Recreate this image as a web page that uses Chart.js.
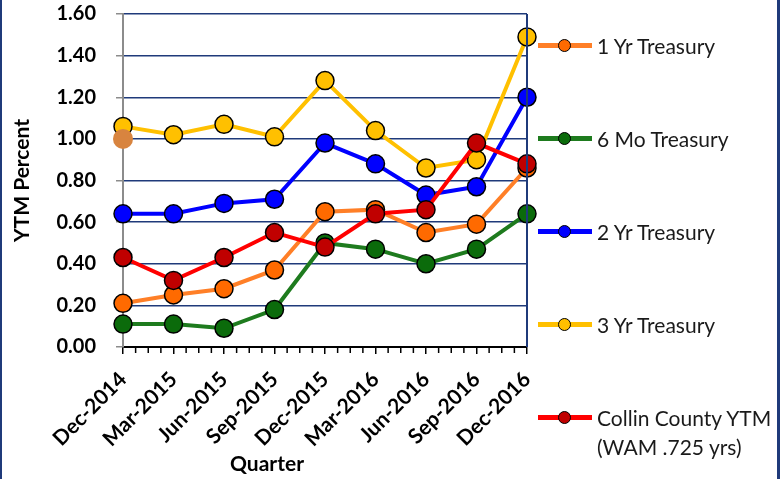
<!DOCTYPE html>
<html>
<head>
<meta charset="utf-8">
<script src="https://cdn.jsdelivr.net/npm/chart.js@4.4.1/dist/chart.umd.min.js"></script>
<style>
    body { margin: 0; background: #fff; }
    #wrap { position: relative; width: 784px; height: 479px; }
    #legend { position: absolute; left: 0; top: 0; font-family: Lato, sans-serif; font-size: 21px; color: #1a1a1a; }
    .item { position: absolute; left: 538px; height: 29px; }
    .item .ln { position: absolute; left: 0; top: 12px; width: 54px; height: 5px; }
    .item .dot { position: absolute; left: 20px; top: 8px; width: 13px; height: 13px; border: 1.5px solid #000; border-radius: 50%; box-sizing: border-box; }
    .item .txt { position: absolute; left: 59px; top: 0; line-height: 29px; white-space: pre; }
</style>
</head>
<body>
<div id="wrap">
    <canvas id="myChart" width="784" height="479"></canvas>
    <div id="legend"></div>
</div>
<script>
var quarters = ['Dec-2014', 'Mar-2015', 'Jun-2015', 'Sep-2015', 'Dec-2015', 'Mar-2016', 'Jun-2016', 'Sep-2016', 'Dec-2016'];
var oneYr = [0.21, 0.25, 0.28, 0.37, 0.65, 0.66, 0.55, 0.59, 0.86];
var sixMo = [0.11, 0.11, 0.09, 0.18, 0.50, 0.47, 0.40, 0.47, 0.64];
var twoYr = [0.64, 0.64, 0.69, 0.71, 0.98, 0.88, 0.73, 0.77, 1.20];
var threeYr = [1.06, 1.02, 1.07, 1.01, 1.28, 1.04, 0.86, 0.90, 1.49];
var collin = [0.43, 0.32, 0.43, 0.55, 0.48, 0.64, 0.66, 0.98, 0.88];
var stray = [1.00, null, null, null, null, null, null, null, null];
var yTicks = [0, 0.2, 0.4, 0.6, 0.8, 1.0, 1.2, 1.4, 1.6];

var navy = '#1F3A7A';
var font = 'Lato';

function series(label, values, line, fill, order) {
    return {
        label: label,
        data: values,
        borderColor: line,
        backgroundColor: fill,
        pointBackgroundColor: fill,
        pointBorderColor: '#000',
        pointBorderWidth: 1.5,
        pointRadius: 9,
        borderWidth: 4,
        tension: 0,
        order: order
    };
}

var frame = {
    id: 'frame',
    afterDraw: function(chart) {
        var c = chart.ctx, a = chart.chartArea, x = chart.scales.x;
        c.save();
        // outer frame
        c.fillStyle = navy;
        c.fillRect(0, 0, 2, 479);
        c.fillRect(777, 0, 3, 479);
        // right border of plot
        c.strokeStyle = navy;
        c.lineWidth = 2;
        c.beginPath();
        c.moveTo(a.right, a.top);
        c.lineTo(a.right, a.bottom);
        c.stroke();
        // minor ticks
        c.strokeStyle = '#000';
        c.lineWidth = 1.5;
        for (var i = 0; i < quarters.length - 1; i++) {
            var p0 = x.getPixelForValue(i), p1 = x.getPixelForValue(i + 1);
            for (var k = 1; k < 4; k++) {
                var px = p0 + (p1 - p0) * k / 4;
                c.beginPath();
                c.moveTo(px, a.bottom);
                c.lineTo(px, a.bottom + 6);
                c.stroke();
            }
        }
        // x title
        c.fillStyle = '#000';
        c.font = 'bold 21px ' + font;
        c.textAlign = 'center';
        c.textBaseline = 'middle';
        c.fillText('Quarter', 267, 464);
        c.restore();
    }
};

var ctx = document.getElementById('myChart').getContext('2d');
var myChart = new Chart(ctx, {
    type: 'line',
    data: {
        labels: quarters,
        datasets: [
            series('1 Yr Treasury', oneYr, '#FF7F27', '#FF6A00', 4),
            series('6 Mo Treasury', sixMo, '#1E7B1E', '#0B6B0B', 5),
            series('2 Yr Treasury', twoYr, '#0000FF', '#0000FF', 3),
            series('3 Yr Treasury', threeYr, '#FFC000', '#FFC000', 2),
            series('Collin County YTM\n(WAM .725 yrs)', collin, '#FF0000', '#C00000', 1),
            {
                label: 'extra', data: stray, showLine: false, borderWidth: 0,
                pointRadius: 10, pointBorderWidth: 0,
                pointBackgroundColor: '#D8843F', backgroundColor: '#D8843F', order: 0
            }
        ]
    },
    options: {
        responsive: false,
        animation: false,
        devicePixelRatio: 1,
        layout: { padding: { left: 0, top: 14, right: 257, bottom: 0 } },
        plugins: {
            legend: { display: false },
            tooltip: { enabled: false }
        },
        scales: {
            x: {
                offset: false,
                afterFit: function(s) { s.height = 132; s.paddingLeft = 0; s.paddingRight = 0; },
                grid: { drawOnChartArea: false, drawTicks: true, tickLength: 7, color: '#000', lineWidth: 1.5 },
                border: { color: '#000', width: 2 },
                ticks: {
                    maxRotation: 45, minRotation: 45, padding: 13,
                    color: '#000', font: { family: font, size: 21, weight: 'bold' }
                }
            },
            y: {
                min: 0, max: 1.6,
                afterFit: function(s) { s.width = 123; s.paddingTop = 0; s.paddingBottom = 0; },
                afterBuildTicks: function(s) { s.ticks = yTicks.map(function(v) { return { value: v }; }); },
                grid: {
                    color: function(c) { return c.tick && c.tick.value === 0 ? 'rgba(0,0,0,0)' : navy; },
                    tickColor: '#8c8c8c', tickLength: 7, lineWidth: 1.5
                },
                border: { color: '#8c8c8c', width: 2 },
                title: {
                    display: true, text: 'YTM Percent', color: '#000',
                    font: { family: font, size: 21, weight: 'bold' },
                    padding: { top: 10, bottom: 0 }
                },
                ticks: {
                    padding: 20, color: '#000',
                    font: { family: font, size: 20, weight: 'bold' },
                    callback: function(v) { return Number(v).toFixed(2); }
                }
            }
        }
    },
    plugins: [frame]
});

// legend built from the datasets, in the reference order
var legendOrder = [0, 1, 2, 3, 4];
var legendY = [45, 138, 231, 324, 417];
var lg = document.getElementById('legend');
legendOrder.forEach(function(idx, n) {
    var ds = myChart.data.datasets[idx];
    var item = document.createElement('div');
    item.className = 'item';
    item.style.top = (legendY[n] - 14.5) + 'px';
    item.innerHTML = '<div class="ln" style="background:' + ds.borderColor + '"></div>' +
        '<div class="dot" style="background:' + ds.pointBackgroundColor + '"></div>' +
        '<div class="txt"></div>';
    item.querySelector('.txt').textContent = ds.label;
    lg.appendChild(item);
});
</script>
</body>
</html>
